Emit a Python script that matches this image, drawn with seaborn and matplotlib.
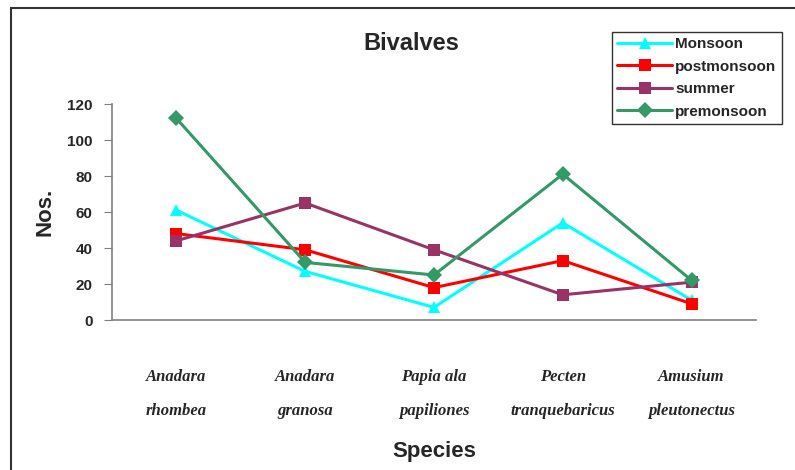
import pandas as pd
import matplotlib.pyplot as plt
import seaborn as sns
from matplotlib.patches import Rectangle

# dados
especies = ['Anadara\nrhombea', 'Anadara\ngranosa', 'Papia ala\npapiliones',
            'Pecten\ntranquebaricus', 'Amusium\npleutonectus']
monsoon = [61, 27, 7, 54, 11]
postmonsoon = [48, 39, 18, 33, 9]
summer = [44, 65, 39, 14, 21]
premonsoon = [112, 32, 25, 81, 22]

estacoes = ['Monsoon', 'postmonsoon', 'summer', 'premonsoon']
cores = {'Monsoon': '#00FFFF', 'postmonsoon': '#FF0000',
         'summer': '#993366', 'premonsoon': '#339966'}
marcadores = {'Monsoon': '^', 'postmonsoon': 's', 'summer': 's', 'premonsoon': 'D'}

linhas = []
for nome, valores in zip(estacoes, [monsoon, postmonsoon, summer, premonsoon]):
    for i, v in enumerate(valores):
        linhas.append({'pos': i, 'valor': v, 'estacao': nome})
df = pd.DataFrame(linhas)

sns.set_style('white')
plt.rcParams['font.family'] = ['Liberation Sans', 'DejaVu Sans']

fig = plt.figure(figsize=(7.95, 4.7), dpi=100)
ax = fig.add_axes([112 / 795, 1 - 320 / 470, 644 / 795, 216 / 470])

sns.lineplot(data=df, x='pos', y='valor', hue='estacao', style='estacao',
             hue_order=estacoes, style_order=estacoes, palette=cores,
             markers=marcadores, dashes=False, linewidth=2.2,
             markersize=8, markeredgewidth=0, ax=ax, legend='full')

ax.set_xlim(-0.5, 4.5)
ax.set_ylim(0, 120)
ax.set_yticks(range(0, 121, 20))
ax.set_yticklabels([str(v) for v in range(0, 121, 20)], fontsize=11, fontweight='bold')
ax.set_xticks(range(len(especies)))
ax.set_xticklabels(especies, family='Liberation Serif', style='italic',
                   fontweight='bold', fontsize=12, linespacing=2.5)
ax.set_xticks([i - 0.5 for i in range(len(especies) + 1)], minor=True)
ax.tick_params(axis='x', which='major', length=0, pad=35)
ax.tick_params(axis='x', which='minor', length=6, direction='out', color='#808080')
ax.tick_params(axis='y', length=6, direction='out', color='#808080', pad=8, left=True)

for lado in ['top', 'right']:
    ax.spines[lado].set_visible(False)
for lado in ['left', 'bottom']:
    ax.spines[lado].set_color('#808080')
    ax.spines[lado].set_linewidth(1.2)

ax.set_xlabel('Species', fontsize=16, fontweight='bold', labelpad=16)
ax.set_ylabel('Nos.', fontsize=16, fontweight='bold', labelpad=8)
fig.text(411 / 795, 1 - 43 / 470, 'Bivalves', fontsize=17, fontweight='bold',
         ha='center', va='center')

leg = ax.legend(loc='upper left', bbox_to_anchor=(612 / 795, 1 - 32 / 470),
                bbox_transform=fig.transFigure, frameon=True, fancybox=False,
                prop={'weight': 'bold', 'size': 11}, handlelength=3.6,
                handletextpad=0.2, borderpad=0.35, labelspacing=0.55,
                borderaxespad=0)
leg.get_frame().set_edgecolor('black')
leg.get_frame().set_linewidth(1.0)

# moldura da figura (só aparecem os lados de cima e da esquerda)
fig.patches.append(Rectangle((11 / 795, -0.5), 2, 0.5 + 1 - 8 / 470,
                             transform=fig.transFigure, fill=False,
                             edgecolor='#333333', linewidth=1.5))

fig.savefig('out.png', dpi=100)
